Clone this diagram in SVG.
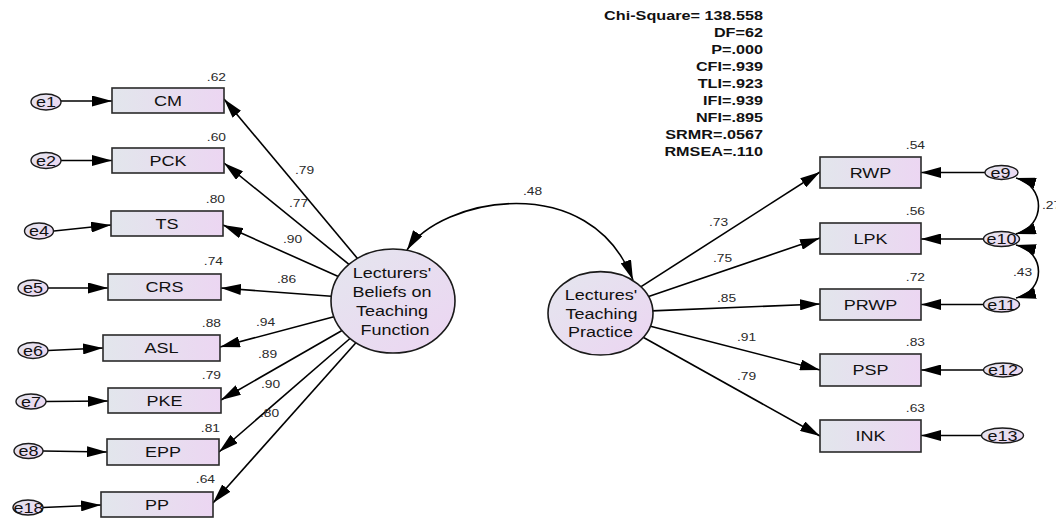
<svg xmlns="http://www.w3.org/2000/svg" width="1056" height="520" viewBox="0 0 1056 520">
<style>
text { font-family: "Liberation Sans", Arial, sans-serif; fill: #111; transform-box: fill-box; transform: scaleX(1.2); }
.m { text-anchor: middle; transform-origin: 50% 50%; }
.e { text-anchor: end; transform-origin: 100% 50%; }
.s { text-anchor: start; transform-origin: 0% 50%; }
.lab { font-size: 15px; }
.num { font-size: 11.5px; fill: #2a2a2a; }
.st { font-size: 13.5px; font-weight: bold; }
.box { fill: url(#gb); stroke: #2a2a2a; stroke-width: 1.6; }
.lat { fill: url(#ge); stroke: #1a1a1a; stroke-width: 1.6; }
.err { fill: url(#ge); stroke: #1a1a1a; stroke-width: 1.4; }
.c { fill: none; stroke: #000; stroke-width: 1.6; marker-end: url(#ah); }
.cc { fill: none; stroke: #000; stroke-width: 1.6; marker-start: url(#ah); marker-end: url(#ah); }
</style>
<defs>
<linearGradient id="gb" x1="0" y1="0" x2="1" y2="0">
<stop offset="0" stop-color="#e2e6ec"/>
<stop offset="1" stop-color="#ecd6f2"/>
</linearGradient>
<linearGradient id="ge" x1="0" y1="0" x2="1" y2="1">
<stop offset="0" stop-color="#e4e6ee"/>
<stop offset="1" stop-color="#ecd5f2"/>
</linearGradient>
<marker id="ah" viewBox="0 0 20 11" refX="20" refY="5.5" markerWidth="20" markerHeight="11" markerUnits="userSpaceOnUse" orient="auto-start-reverse">
<path d="M0,0 L20,5.5 L0,11 z" fill="#000"/>
</marker>
</defs>

<g id="fit-stats">
<text class="st e" x="763" y="20.5">Chi-Square= 138.558</text>
<text class="st e" x="763" y="37.4">DF=62</text>
<text class="st e" x="763" y="54.3">P=.000</text>
<text class="st e" x="763" y="71.2">CFI=.939</text>
<text class="st e" x="763" y="88.1">TLI=.923</text>
<text class="st e" x="763" y="105">IFI=.939</text>
<text class="st e" x="763" y="121.9">NFI=.895</text>
<text class="st e" x="763" y="138.8">SRMR=.0567</text>
<text class="st e" x="763" y="155.7">RMSEA=.110</text>
</g>

<g id="connectors">
<line class="c" x1="357.5" y1="258.5" x2="224" y2="99"/>
<line class="c" x1="349" y1="264.4" x2="224" y2="163"/>
<line class="c" x1="338.3" y1="276.5" x2="223" y2="225"/>
<line class="c" x1="331.3" y1="296.3" x2="221" y2="288"/>
<line class="c" x1="333.9" y1="316.7" x2="220" y2="347"/>
<line class="c" x1="342" y1="330.5" x2="221" y2="400"/>
<line class="c" x1="350" y1="338.5" x2="219" y2="452"/>
<line class="c" x1="355.9" y1="342.7" x2="213" y2="503"/>
<line class="c" x1="640.7" y1="286.9" x2="820" y2="172"/>
<line class="c" x1="647.9" y1="296.7" x2="820" y2="238"/>
<line class="c" x1="651.9" y1="310.9" x2="820" y2="304"/>
<line class="c" x1="649.5" y1="325.9" x2="820" y2="370"/>
<line class="c" x1="642.7" y1="337" x2="820" y2="436"/>
<line class="c" x1="61" y1="101" x2="112" y2="101"/>
<line class="c" x1="61" y1="160.5" x2="112" y2="160.5"/>
<line class="c" x1="54" y1="231" x2="111" y2="225"/>
<line class="c" x1="48" y1="288" x2="108" y2="288"/>
<line class="c" x1="48" y1="350.5" x2="103" y2="348"/>
<line class="c" x1="46" y1="401.5" x2="108" y2="401"/>
<line class="c" x1="43" y1="451" x2="107" y2="452"/>
<line class="c" x1="43" y1="507.5" x2="101" y2="505"/>
<line class="c" x1="985" y1="172.5" x2="921" y2="172.5"/>
<line class="c" x1="983" y1="239" x2="921" y2="239"/>
<line class="c" x1="983" y1="304.5" x2="921" y2="304.5"/>
<line class="c" x1="983" y1="370" x2="921" y2="370"/>
<line class="c" x1="981" y1="435.5" x2="921" y2="435.5"/>
<path class="cc" d="M407,250 C440,198 590,168 633,280"/>
<path class="cc" d="M1016,178 C1046,186 1046,226 1016,234"/>
<path class="cc" d="M1016,245 C1046,252 1046,291 1016,298"/>
<text class="num s" x="295" y="174">.79</text>
<text class="num s" x="289" y="207">.77</text>
<text class="num s" x="283" y="243">.90</text>
<text class="num s" x="277" y="283">.86</text>
<text class="num s" x="256" y="326">.94</text>
<text class="num s" x="258" y="358">.89</text>
<text class="num s" x="261" y="388">.90</text>
<text class="num s" x="260" y="417">.80</text>
<text class="num s" x="709" y="226">.73</text>
<text class="num s" x="713" y="262">.75</text>
<text class="num s" x="717" y="302">.85</text>
<text class="num s" x="737" y="341">.91</text>
<text class="num s" x="737" y="380">.79</text>
<text class="num s" x="523" y="195">.48</text>
<text class="num s" x="1013" y="276">.43</text>
<text class="num s" x="1042" y="209">.27</text>
</g>

<g id="LBTF">
<ellipse class="lat" cx="393" cy="301" rx="62" ry="52"/>
<text class="lab m" x="392" y="278">Lecturers'</text>
<text class="lab m" x="392" y="297">Beliefs on</text>
<text class="lab m" x="392" y="316">Teaching</text>
<text class="lab m" x="395" y="335">Function</text>
</g>
<g id="LTP">
<ellipse class="lat" cx="600.5" cy="313.3" rx="52.5" ry="41.7"/>
<text class="lab m" x="601" y="300.5">Lectures'</text>
<text class="lab m" x="601.5" y="319">Teaching</text>
<text class="lab m" x="600.5" y="337">Practice</text>
</g>

<g id="CM"><rect class="box" x="112" y="88" width="112" height="25"/><text class="lab m" x="168" y="106">CM</text><text class="num e" x="226" y="81">.62</text></g>
<g id="PCK"><rect class="box" x="112" y="148" width="112" height="25"/><text class="lab m" x="168" y="166">PCK</text><text class="num e" x="226" y="141">.60</text></g>
<g id="TS"><rect class="box" x="111" y="211" width="112" height="25"/><text class="lab m" x="167" y="229">TS</text><text class="num e" x="225" y="203">.80</text></g>
<g id="CRS"><rect class="box" x="108" y="274" width="113" height="26"/><text class="lab m" x="164.5" y="292.5">CRS</text><text class="num e" x="223" y="265">.74</text></g>
<g id="ASL"><rect class="box" x="103" y="335" width="117" height="26"/><text class="lab m" x="161.5" y="353.5">ASL</text><text class="num e" x="221" y="327">.88</text></g>
<g id="PKE"><rect class="box" x="108" y="388" width="113" height="25"/><text class="lab m" x="164.5" y="406">PKE</text><text class="num e" x="221" y="379">.79</text></g>
<g id="EPP"><rect class="box" x="107" y="439" width="112" height="26"/><text class="lab m" x="163" y="457.5">EPP</text><text class="num e" x="220" y="432">.81</text></g>
<g id="PP"><rect class="box" x="101" y="492" width="112" height="25"/><text class="lab m" x="157" y="510">PP</text><text class="num e" x="215" y="483">.64</text></g>

<g id="RWP"><rect class="box" x="820" y="157" width="101" height="31"/><text class="lab m" x="870.5" y="178">RWP</text><text class="num e" x="925" y="149">.54</text></g>
<g id="LPK"><rect class="box" x="820" y="223" width="101" height="31"/><text class="lab m" x="870.5" y="244">LPK</text><text class="num e" x="925" y="215">.56</text></g>
<g id="PRWP"><rect class="box" x="820" y="289" width="101" height="31"/><text class="lab m" x="870.5" y="310">PRWP</text><text class="num e" x="925" y="281">.72</text></g>
<g id="PSP"><rect class="box" x="820" y="354" width="101" height="32"/><text class="lab m" x="870.5" y="375.5">PSP</text><text class="num e" x="925" y="346">.83</text></g>
<g id="INK"><rect class="box" x="820" y="420" width="101" height="32"/><text class="lab m" x="870.5" y="441.5">INK</text><text class="num e" x="925" y="412">.63</text></g>

<g id="e1"><ellipse class="err" cx="46" cy="102" rx="15" ry="8"/><text class="lab m" x="46" y="107.5">e1</text></g>
<g id="e2"><ellipse class="err" cx="46" cy="160.5" rx="15" ry="8"/><text class="lab m" x="46" y="166">e2</text></g>
<g id="e4"><ellipse class="err" cx="39" cy="231" rx="14.5" ry="8"/><text class="lab m" x="39" y="236.5">e4</text></g>
<g id="e5"><ellipse class="err" cx="33" cy="288" rx="15" ry="8"/><text class="lab m" x="33" y="293.5">e5</text></g>
<g id="e6"><ellipse class="err" cx="33" cy="350.5" rx="15" ry="8"/><text class="lab m" x="33" y="356">e6</text></g>
<g id="e7"><ellipse class="err" cx="31" cy="401.5" rx="15" ry="7.5"/><text class="lab m" x="31" y="407">e7</text></g>
<g id="e8"><ellipse class="err" cx="28.5" cy="451" rx="14.5" ry="7.5"/><text class="lab m" x="28.5" y="456.5">e8</text></g>
<g id="e18"><ellipse class="err" cx="28" cy="507.5" rx="15" ry="7.5"/><text class="lab m" x="28.5" y="513">e18</text></g>

<g id="e9"><ellipse class="err" cx="1001.5" cy="172.5" rx="16.5" ry="7"/><text class="lab m" x="1000.5" y="178">e9</text></g>
<g id="e10"><ellipse class="err" cx="1001.5" cy="239" rx="18" ry="7.5"/><text class="lab m" x="1001.5" y="244.5">e10</text></g>
<g id="e11"><ellipse class="err" cx="1001.5" cy="304.5" rx="18" ry="7.5"/><text class="lab m" x="1001.5" y="310">e11</text></g>
<g id="e12"><ellipse class="err" cx="1003" cy="370" rx="19.5" ry="7"/><text class="lab m" x="1003" y="375.5">e12</text></g>
<g id="e13"><ellipse class="err" cx="1002.5" cy="435.5" rx="21" ry="7.5"/><text class="lab m" x="1002.5" y="441">e13</text></g>
</svg>
